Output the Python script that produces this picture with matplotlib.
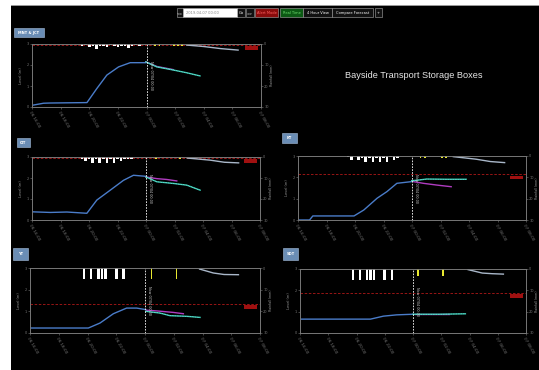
import matplotlib
matplotlib.use('Agg')
import matplotlib.pyplot as plt
from matplotlib.patches import Rectangle

# time axis (hours from window start), now = 8h
HOURS = [0, 2, 4, 6, 8, 10, 12, 14, 16]
TICK_LABELS = ['06 16:00', '06 18:00', '06 20:00', '06 22:00', '07 00:00',
               '07 02:00', '07 04:00', '07 06:00', '07 08:00']
NOW = 8
LEVEL_TICKS = [0, 1, 2, 3]
RAIN_TICKS = [0, 10, 20, 30]

# MNT & JCT
mnt_obs_t = [0, 0.81, 1.28, 3.84, 4.53, 5.23, 6.05, 6.86, 7.95]
mnt_obs_v = [0.08, 0.18, 0.19, 0.21, 0.88, 1.52, 1.91, 2.11, 2.11]
mnt_fca_t = [7.95, 8.72, 9.88, 10.81, 11.74]
mnt_fca_v = [2.15, 1.91, 1.76, 1.63, 1.48]
mnt_fcb_t = [7.95, 8.72, 9.88]
mnt_fcb_v = [2.15, 1.93, 1.78]
mnt_alert = 2.97
mnt_rain_t = [3.5, 3.75, 4.0, 4.25, 4.5, 4.75, 5.0, 5.25, 5.5, 5.75, 6.0, 6.25, 6.5, 6.75, 7.0, 7.25, 7.5]
mnt_rain_v = [1, 0.5, 1.5, 1, 2.5, 1, 1, 1.5, 0.5, 1, 1.5, 1, 1, 2, 1, 0.5, 1]
mnt_rfc_t = [8.6, 8.9, 9.9, 10.2, 10.5]
mnt_rfc_v = [0.8, 0.8, 0.8, 0.8, 0.8]
mnt_cum_t = [10.8, 12.0, 13.2, 14.4]
mnt_cum_v = [0.5, 1.2, 2.2, 2.9]

# CIT
cit_obs_t = [0, 1.28, 2.45, 3.85, 4.55, 5.49, 6.42, 7.12, 7.99]
cit_obs_v = [0.39, 0.36, 0.38, 0.32, 0.95, 1.42, 1.89, 2.13, 2.08]
cit_fca_t = [7.99, 8.76, 9.93, 10.86, 11.8]
cit_fca_v = [2.05, 1.82, 1.74, 1.66, 1.42]
cit_fcb_t = [7.99, 8.76, 9.46, 10.16]
cit_fcb_v = [2.05, 1.97, 1.93, 1.86]
cit_alert = 2.97
cit_rain_t = [3.5, 3.75, 4.0, 4.25, 4.5, 4.75, 5.0, 5.25, 5.5, 5.75, 6.0, 6.25, 6.5, 6.75, 7.0]
cit_rain_v = [1, 2, 1, 3, 1, 3, 1, 3, 1, 3, 1, 2, 1, 1, 1]
cit_rfc_t = [8.7, 10.4]
cit_rfc_v = [0.8, 0.8]
cit_cum_t = [10.9, 12.5, 13.5, 14.5]
cit_cum_v = [0.5, 1.5, 2.5, 2.8]

# KT
kt_obs_t = [0, 0.81, 1.04, 3.93, 4.62, 5.55, 6.24, 6.94, 7.98]
kt_obs_v = [0, 0, 0.19, 0.19, 0.47, 1.02, 1.33, 1.72, 1.8]
kt_fca_t = [7.98, 8.55, 9.02, 10.4, 11.8]
kt_fca_v = [1.84, 1.88, 1.92, 1.91, 1.91]
kt_fcb_t = [8.09, 8.79, 9.71, 10.75]
kt_fcb_v = [1.8, 1.72, 1.64, 1.56]
kt_alert = 2.14
kt_rain_t = [3.5, 3.75, 4.0, 4.25, 4.5, 4.75, 5.0, 5.25, 5.5, 5.75, 6.0, 6.25, 6.5, 6.75, 7.0]
kt_rain_v = [0.5, 2, 0, 2, 1, 3, 1, 3, 1, 3, 1, 3, 0.5, 2, 1]
kt_rfc_t = [8.6, 8.9, 10.1, 10.4]
kt_rfc_v = [0.8, 0.8, 0.8, 0.8]
kt_cum_t = [10.9, 12.5, 13.5, 14.5]
kt_cum_v = [0.3, 1.5, 2.6, 3.1]

# YT
yt_obs_t = [0, 4.06, 4.87, 5.8, 6.72, 7.42, 8.05]
yt_obs_v = [0.23, 0.23, 0.46, 0.89, 1.15, 1.15, 1.08]
yt_fca_t = [8.05, 9.04, 9.74, 10.9, 11.83]
yt_fca_v = [1.0, 0.92, 0.8, 0.77, 0.72]
yt_fcb_t = [8.12, 8.81, 9.97, 10.67]
yt_fcb_v = [1.05, 1.02, 0.95, 0.89]
yt_alert = 1.34
yt_rain_t = [3.75, 4.0, 4.25, 4.5, 4.75, 5.0, 5.25, 5.5, 5.75, 6.0, 6.25, 6.5]
yt_rain_v = [5, 0, 5, 0, 5, 5, 5, 0, 0, 5, 0, 5]
yt_rfc_t = [8.45, 10.2]
yt_rfc_v = [5, 5]
yt_cum_t = [11.8, 12.75, 13.5, 14.5]
yt_cum_v = [0.5, 2.3, 3.0, 3.1]

# SDT
sdt_obs_t = [0, 4.99, 5.91, 6.84, 8.0]
sdt_obs_v = [0.65, 0.65, 0.79, 0.85, 0.88]
sdt_fca_t = [8.0, 9.86, 11.71]
sdt_fca_v = [0.88, 0.88, 0.9]
sdt_fcb_t = [8.12, 10.55]
sdt_fcb_v = [0.88, 0.88]
sdt_alert = 1.89
sdt_rain_t = [3.75, 4.0, 4.25, 4.5, 4.75, 5.0, 5.25, 5.5, 5.75, 6.0, 6.25, 6.5]
sdt_rain_v = [5, 0, 5, 0, 5, 5, 5, 0, 0, 5, 0, 5]
sdt_rfc_t = [8.35, 10.1]
sdt_rfc_v = [3.5, 3.5]
sdt_cum_t = [11.9, 12.9, 13.6, 14.4]
sdt_cum_v = [0.3, 1.9, 2.2, 2.4]

W, H = 539, 370
fig = plt.figure(figsize=(W / 100, H / 100), dpi=100, facecolor='black')


def fbox(x0, y0, x1, y1, fc, ec='none', lw=0.4):
    fig.add_artist(Rectangle((x0 / W, 1 - y1 / H), (x1 - x0) / W, (y1 - y0) / H,
                             transform=fig.transFigure, facecolor=fc,
                             edgecolor=ec, linewidth=lw))


def ftext(x, y, s, **kw):
    fig.text(x / W, 1 - y / H, s, **kw)


# page frame
fbox(0, 0, W, 5, 'white')
fbox(0, 5, W, 6, '#999999')
fbox(0, 0, 11, H, 'white')

# toolbar
buttons = [(177, 183, '<<', '#111111', 'white'),
           (237, 245, 'Go', '#111111', 'white'),
           (246, 254, '>>', '#111111', 'white'),
           (255, 278, 'Alert Mode', '#8a0c0c', '#ff6060'),
           (280, 303, 'Real Time', '#0c5a14', '#70e070'),
           (303, 332, '4 Hour View', '#111111', 'white'),
           (332, 373, 'Compare Forecast', '#111111', 'white'),
           (375, 382, '+', '#111111', 'white')]
for x0, x1, s, fc, tc in buttons:
    fbox(x0, 8, x1, 17, fc, ec='#aaaaaa')
    ftext((x0 + x1) / 2, 12.7, s, color=tc, fontsize=2.6, ha='center', va='center')
fbox(183, 8, 237, 17, 'white', ec='#aaaaaa')
ftext(186, 12.7, '2019-04-07 00:00', color='#888888', fontsize=2.6, va='center')

ftext(414, 75, 'Bayside Transport Storage Boxes', color='#e6e6e6', fontsize=6.6,
      ha='center', va='center', family=['Liberation Sans Narrow', 'Liberation Sans'])


def panel(name, lab, rect, obs_t, obs_v, fca_t, fca_v, fcb_t, fcb_v, alert,
          rain_t, rain_v, rfc_t, rfc_v, cum_t, cum_v):
    x0, y0, x1, y1 = rect
    ax = fig.add_axes([x0 / W, 1 - y1 / H, (x1 - x0) / W, (y1 - y0) / H])
    ax.set_facecolor('black')
    ax.set_xlim(0, 16)
    ax.set_ylim(0, 3)
    for sp in ax.spines.values():
        sp.set_color('#777777')
        sp.set_linewidth(0.6)
    ax.set_xticks(HOURS)
    ax.set_xticklabels(TICK_LABELS, rotation=-60, ha='left', va='top',
                       rotation_mode='anchor', fontsize=3, color='#bbbbbb')
    ax.set_yticks(LEVEL_TICKS)
    ax.set_yticklabels([str(v) for v in LEVEL_TICKS], fontsize=2.5, color='#999999')
    ax.tick_params(colors='#777777', length=1.5, width=0.4, pad=1)
    ax.set_ylabel('Level (m)', fontsize=2.5, color='#999999', labelpad=2)

    ax.axhline(alert, color='#b01818', ls=(0, (3, 2)), lw=0.6)
    ax.add_patch(Rectangle((14.9, alert - 0.24), 0.9, 0.18, facecolor='#a01010',
                           edgecolor='none'))
    ax.plot(obs_t, obs_v, color='#4a7cc9', lw=1)
    ax.plot(fcb_t, fcb_v, color='#b03cc0', lw=1)
    ax.plot(fca_t, fca_v, color='#33c9b0', lw=1)
    ax.plot(fca_t, fca_v, color='#cceeff', lw=0.4, ls=(0, (1, 2)))
    ax.axvline(NOW, color='white', ls=(0, (2, 1.5)), lw=0.6)
    ax.text(NOW + 0.15, 1.5, 'Now 07/04 00:00', rotation=-90, fontsize=2.4,
            color='#cccccc', ha='left', va='center')

    ax2 = ax.twinx()
    ax2.set_ylim(30, 0)
    ax2.set_yticks(RAIN_TICKS)
    ax2.set_yticklabels([str(v) for v in RAIN_TICKS], fontsize=2.5, color='#999999')
    ax2.tick_params(colors='#777777', length=1.5, width=0.4, pad=0.8)
    ax2.set_ylabel('Rainfall (mm)', fontsize=2.3, color='#999999', labelpad=0.8)
    for sp in ax2.spines.values():
        sp.set_color('#777777')
        sp.set_linewidth(0.6)
    ax2.bar(rain_t, rain_v, width=0.18, color='white', align='center')
    ax2.bar(rfc_t, rfc_v, width=0.12, color='#e8e830', align='center')
    ax2.plot(cum_t, cum_v, color='#a9b7c9', lw=1)

    lx0, ly0, lx1, ly1 = lab
    fbox(lx0, ly0, lx1, ly1, '#6a8db5', ec='#a8c0dc')
    ftext((lx0 + lx1) / 2, (ly0 + ly1) / 2 + 0.3, name, color='white', fontsize=2.6,
          ha='center', va='center', weight='bold')


panel('MNT & JCT', (14, 28, 44, 37), (32, 44, 261, 107),
      mnt_obs_t, mnt_obs_v, mnt_fca_t, mnt_fca_v, mnt_fcb_t, mnt_fcb_v, mnt_alert,
      mnt_rain_t, mnt_rain_v, mnt_rfc_t, mnt_rfc_v, mnt_cum_t, mnt_cum_v)
panel('CIT', (17, 138, 30, 147), (32, 157, 260, 220),
      cit_obs_t, cit_obs_v, cit_fca_t, cit_fca_v, cit_fcb_t, cit_fcb_v, cit_alert,
      cit_rain_t, cit_rain_v, cit_rfc_t, cit_rfc_v, cit_cum_t, cit_cum_v)
panel('KT', (282, 133, 297, 143), (298, 156, 526, 220),
      kt_obs_t, kt_obs_v, kt_fca_t, kt_fca_v, kt_fcb_t, kt_fcb_v, kt_alert,
      kt_rain_t, kt_rain_v, kt_rfc_t, kt_rfc_v, kt_cum_t, kt_cum_v)
panel('YT', (13, 248, 28, 260), (30, 268, 260, 333),
      yt_obs_t, yt_obs_v, yt_fca_t, yt_fca_v, yt_fcb_t, yt_fcb_v, yt_alert,
      yt_rain_t, yt_rain_v, yt_rfc_t, yt_rfc_v, yt_cum_t, yt_cum_v)
panel('SDT', (283, 248, 298, 260), (300, 269, 526, 333),
      sdt_obs_t, sdt_obs_v, sdt_fca_t, sdt_fca_v, sdt_fcb_t, sdt_fcb_v, sdt_alert,
      sdt_rain_t, sdt_rain_v, sdt_rfc_t, sdt_rfc_v, sdt_cum_t, sdt_cum_v)

fig.savefig('out.png', dpi=100, facecolor='black')
